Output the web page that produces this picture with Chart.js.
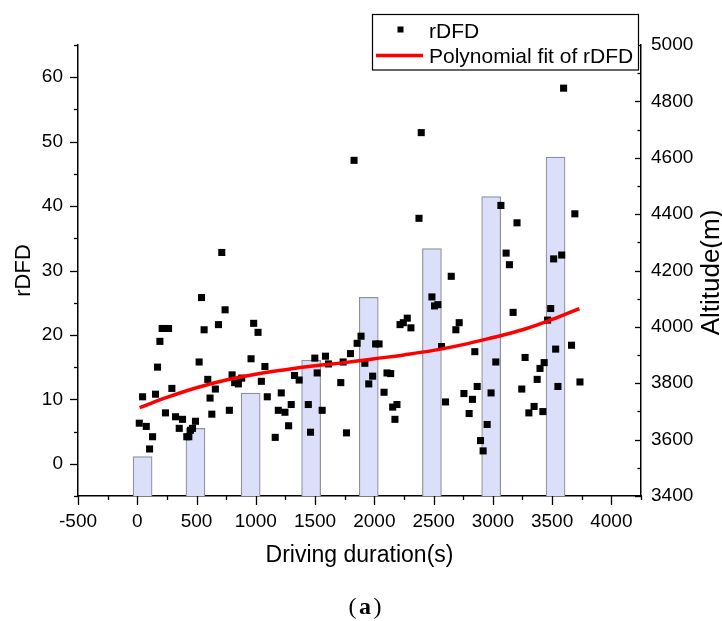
<!DOCTYPE html>
<html><head><meta charset="utf-8">
<script src="https://cdn.jsdelivr.net/npm/chart.js@4.4.1/dist/chart.umd.min.js"></script>
<style>html,body{margin:0;padding:0;background:#fff}#c{display:block}</style>
</head><body>
<canvas id="c" width="722" height="621"></canvas>
<script>
// ---- data ----
const scatterX = [17,45,76,104,129,154,171,191,210,264,238,292,323,354,382,418,435,449,466,491,
  522,542,564,595,614,629,659,685,713,741,777,800,822,853,881,960,982,1019,1047,1077,1097,1164,
  1190,1215,1246,1277,1299,1327,1366,1443,1462,1498,1518,1560,1588,1613,1717,1737,1765,1799,1829,
  1855,1888,1920,1953,1986,2011,2040,2082,2107,2138,2155,2174,2191,2217,2245,2278,2309,2377,2396,
  2486,2508,2536,2567,2601,2649,2688,2716,2756,2800,2828,2848,2868,2896,2918,2952,2985,3025,3068,
  3112,3140,3171,3204,3244,3272,3304,3348,3374,3398,3422,3433,3462,3488,3513,3530,3549,3581,3597,
  3664,3692,3735];
const scatterY = [6.3,10.4,5.8,2.3,4.2,10.8,15.0,19.0,21.0,21.0,7.9,11.7,7.3,5.5,6.9,4.2,4.2,5.2,5.5,6.6,
  15.8,25.8,20.8,13.1,10.2,7.7,11.6,21.6,32.8,23.9,8.3,13.8,12.6,12.4,13.3,16.3,21.8,20.4,12.8,15.1,10.4,4.1,
  8.3,11.0,8.0,5.9,9.2,13.7,13.0,9.2,4.9,16.4,14.1,8.3,16.7,15.5,12.6,15.8,4.8,17.1,47.1,
  18.7,19.8,15.6,12.4,13.6,18.6,18.6,11.1,14.1,14.0,8.8,6.9,9.2,21.6,21.9,22.6,21.1,38.1,51.4,
  25.9,24.5,24.7,18.2,9.6,29.1,20.8,21.9,10.9,7.8,10.0,17.4,12.0,3.6,2.0,6.1,11.0,15.8,40.1,
  32.7,30.9,23.5,37.4,11.6,16.5,7.9,8.9,13.1,14.8,8.1,15.7,22.3,24.1,31.8,17.8,12.0,32.4,58.3,
  18.4,38.8,12.7];
const fitX = [20,250,500,750,1000,1250,1500,1750,2000,2250,2500,2750,3000,3250,3500,3730];
const fitY = [8.7,10.3,11.8,13.0,13.9,14.6,15.2,15.7,16.3,16.9,17.6,18.5,19.6,20.8,22.4,24.1];
const barX = [45,491,957,1467,1953,2486,2986,3529];
const altitude = [3540,3640,3765,3882,4105,4278,4462,4602];
const xTicks = [-500,0,500,1000,1500,2000,2500,3000,3500,4000];
const rdfdTicks = [0,10,20,30,40,50,60];
const altTicks = [3400,3600,3800,4000,4200,4400,4600,4800,5000];
const X_MIN = -500, X_MAX = 4250, X_MINOR = 250;
const Y_MIN = -5, Y_MAX = 65, Y_MINOR = 5;
const A_MIN = 3400, A_MAX = 5000, A_MINOR = 100;

const SANS = '"Liberation Sans", Arial, Helvetica, sans-serif';
const SERIF = '"Liberation Serif", "Times New Roman", serif';

const decor = {
  id: 'decor',
  afterDraw(chart) {
    const {ctx, chartArea: a, scales} = chart;
    ctx.save();
    ctx.strokeStyle = '#000';
    ctx.lineWidth = 1.3;
    const seg = (x1, y1, x2, y2) => { ctx.beginPath(); ctx.moveTo(x1, y1); ctx.lineTo(x2, y2); ctx.stroke(); };
    for (let v = X_MIN; v <= X_MAX + 1e-6; v += X_MINOR) {
      const p = Math.round(scales.x.getPixelForValue(v)) + 0.5;
      seg(p, a.bottom, p, a.bottom + (xTicks.includes(v) ? 9 : 4));
    }
    for (let v = Y_MIN; v <= Y_MAX + 1e-6; v += Y_MINOR) {
      const p = Math.round(scales.y.getPixelForValue(v)) + 0.5;
      seg(a.left, p, a.left - (rdfdTicks.includes(v) ? 8 : 4), p);
    }
    for (let v = A_MIN; v <= A_MAX + 1e-6; v += A_MINOR) {
      const p = Math.round(scales.y2.getPixelForValue(v)) + 0.5;
      seg(a.right, p, a.right - (altTicks.includes(v) ? 6 : 3.5), p);
    }
    // right axis title (reads bottom to top)
    ctx.fillStyle = '#000';
    ctx.save();
    ctx.translate(712, (a.top + a.bottom) / 2 + 2);
    ctx.rotate(-Math.PI / 2);
    ctx.font = '26px ' + SANS;
    ctx.textAlign = 'center';
    ctx.textBaseline = 'middle';
    ctx.fillText('Altitude(m)', 0, 0);
    ctx.restore();
    // caption "(a)"
    ctx.textBaseline = 'middle';
    ctx.textAlign = 'left';
    const fr = '24px ' + SERIF, fb = 'bold 24px ' + SERIF;
    ctx.font = fr; const wl = ctx.measureText('(').width;
    ctx.font = fb; const wa = ctx.measureText('a').width;
    const gap = 2.5;
    const total = wl * 2 + wa + gap * 2;
    let cx = 365 - total / 2;
    ctx.font = fr; ctx.fillText('(', cx, 608); cx += wl + gap;
    ctx.font = fb; ctx.fillText('a', cx, 608); cx += wa + gap;
    ctx.font = fr; ctx.fillText(')', cx, 608);
    // legend
    ctx.fillStyle = '#fff';
    ctx.fillRect(372.5, 14.5, 266, 55.5);
    ctx.strokeStyle = '#000';
    ctx.lineWidth = 1.2;
    ctx.strokeRect(372.5, 14.5, 266, 55.5);
    ctx.fillStyle = '#000';
    ctx.fillRect(397.5, 26.5, 6, 6);
    ctx.strokeStyle = '#ff0000';
    ctx.lineWidth = 3.5;
    seg(376, 55.5, 423, 55.5);
    ctx.fillStyle = '#000';
    ctx.font = '21px ' + SANS;
    ctx.textBaseline = 'alphabetic';
    ctx.fillText('rDFD', 429, 37.5);
    ctx.fillText('Polynomial fit of rDFD', 429, 63);
    ctx.restore();
  }
};

const tickFont = {family: SANS, size: 19};

new Chart(document.getElementById('c'), {
  data: {
    datasets: [
      {
        type: 'line', label: 'Polynomial fit of rDFD', order: 1,
        data: fitX.map((x, i) => ({x, y: fitY[i]})),
        borderColor: '#ff0000', borderWidth: 3.5, pointRadius: 0, tension: 0.4, fill: false,
        xAxisID: 'x', yAxisID: 'y'
      },
      {
        type: 'scatter', label: 'rDFD', order: 2,
        data: scatterX.map((x, i) => ({x, y: scatterY[i]})),
        pointStyle: 'rect', pointRadius: 5, backgroundColor: '#000', borderColor: '#000', borderWidth: 0,
        xAxisID: 'x', yAxisID: 'y'
      },
      {
        type: 'bar', label: 'Altitude', order: 3,
        data: barX.map((x, i) => ({x, y: altitude[i]})),
        backgroundColor: '#dcdffa', borderColor: '#8e8e9c', borderWidth: 1.2, borderSkipped: 'bottom',
        barThickness: 19,
        xAxisID: 'x', yAxisID: 'y2'
      }
    ]
  },
  options: {
    responsive: false, animation: false,
    layout: {padding: {top: 45, left: 0, right: 0, bottom: 0}},
    plugins: {legend: {display: false}, tooltip: {enabled: false}},
    scales: {
      x: {
        type: 'linear', position: 'bottom', min: X_MIN, max: X_MAX, offset: false,
        grid: {display: false, drawTicks: false},
        border: {display: true, color: '#000', width: 1.5},
        afterBuildTicks: s => { s.ticks = xTicks.map(v => ({value: v})); },
        afterFit: s => { s.height = 125; s.paddingLeft = 0; s.paddingRight = 0; },
        ticks: {font: tickFont, color: '#000', padding: 14, maxRotation: 0, autoSkip: false, callback: v => String(v)},
        title: {display: true, text: 'Driving duration(s)', color: '#000', font: {family: SANS, size: 23}, padding: {top: 0, bottom: 52}}
      },
      y: {
        type: 'linear', position: 'left', min: Y_MIN, max: Y_MAX,
        grid: {display: false, drawTicks: false},
        border: {display: true, color: '#000', width: 1.5},
        afterBuildTicks: s => { s.ticks = rdfdTicks.map(v => ({value: v})); },
        afterFit: s => { s.width = 78; s.paddingTop = 0; s.paddingBottom = 0; },
        ticks: {font: tickFont, color: '#000', padding: 15, callback: v => String(v)},
        title: {display: true, text: 'rDFD', color: '#000', font: {family: SANS, size: 22}, padding: {top: 11, bottom: 0}}
      },
      y2: {
        type: 'linear', position: 'right', min: A_MIN, max: A_MAX, beginAtZero: false,
        grid: {display: false, drawTicks: false},
        border: {display: true, color: '#000', width: 1.5},
        afterBuildTicks: s => { s.ticks = altTicks.map(v => ({value: v})); },
        afterFit: s => { s.width = 81; s.paddingTop = 0; s.paddingBottom = 0; },
        ticks: {font: tickFont, color: '#000', padding: 10, callback: v => String(v)}
      }
    }
  },
  plugins: [decor]
});
</script>
</body></html>
